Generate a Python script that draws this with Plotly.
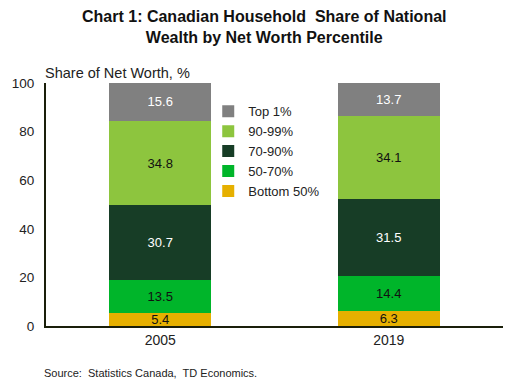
import plotly.graph_objects as go

years = ["2005", "2019"]
bottom50 = [5.4, 6.3]
p50_70 = [13.5, 14.4]
p70_90 = [30.7, 31.5]
p90_99 = [34.8, 34.1]
top1 = [15.6, 13.7]

series = [
    ("Bottom 50%", bottom50, "#E6B000", "#111111"),
    ("50-70%", p50_70, "#00B52A", "#111111"),
    ("70-90%", p70_90, "#173D26", "#FFFFFF"),
    ("90-99%", p90_99, "#8DC53E", "#111111"),
    ("Top 1%", top1, "#808080", "#FFFFFF"),
]

FONT = "Liberation Sans, Arial, sans-serif"

fig = go.Figure()
for name, vals, color, tcolor in series:
    fig.add_trace(go.Bar(
        x=years, y=vals, name=name,
        marker=dict(color=color, line=dict(width=0)),
        text=[f"{v:.1f}" for v in vals],
        textposition="inside", insidetextanchor="middle",
        constraintext="none", textangle=0,
        textfont=dict(color=tcolor, size=13, family=FONT),
        width=0.445,
    ))

fig.update_layout(
    barmode="stack",
    width=519, height=385,
    margin=dict(l=45.5, r=15.5, t=83, b=59),
    paper_bgcolor="white", plot_bgcolor="white",
    font=dict(family=FONT, size=13, color="#222222"),
    showlegend=True,
    legend=dict(
        traceorder="reversed",
        x=0.355, y=0.945, xanchor="left", yanchor="top",
        bgcolor="rgba(0,0,0,0)",
        font=dict(size=13, color="#222222"),
        itemwidth=30, tracegroupgap=0,
    ),
    xaxis=dict(
        showline=True, linecolor="#1a1f0a", linewidth=2,
        ticks="", tickfont=dict(size=14, color="#222222"),
        showgrid=False,
    ),
    yaxis=dict(
        range=[0, 100], dtick=20,
        showline=True, linecolor="#1a1f0a", linewidth=2,
        ticks="", showgrid=False, zeroline=False,
        ticklabelstandoff=7,
        tickfont=dict(size=13.5, color="#222222"),
    ),
    annotations=[
        dict(text="<b>Chart 1: Canadian Household  Share of National<br>Wealth by Net Worth Percentile</b>",
             xref="paper", yref="paper", x=0.478, y=1.232,
             xanchor="center", yanchor="middle", showarrow=False,
             font=dict(size=16, color="#111111")),
        dict(text="Share of Net Worth, %", xref="paper", yref="paper",
             x=-0.006, y=1.04, xanchor="left", yanchor="middle",
             showarrow=False, font=dict(size=14.5, color="#222222")),
        dict(text="Source:  Statistics Canada,  TD Economics.", xref="paper", yref="paper",
             x=-0.008, y=-0.193, xanchor="left", yanchor="middle",
             showarrow=False, font=dict(size=11, color="#222222")),
    ],
)

fig.write_html("out.html", config={"displayModeBar": False},
               post_script="document.body.style.margin='0';")
